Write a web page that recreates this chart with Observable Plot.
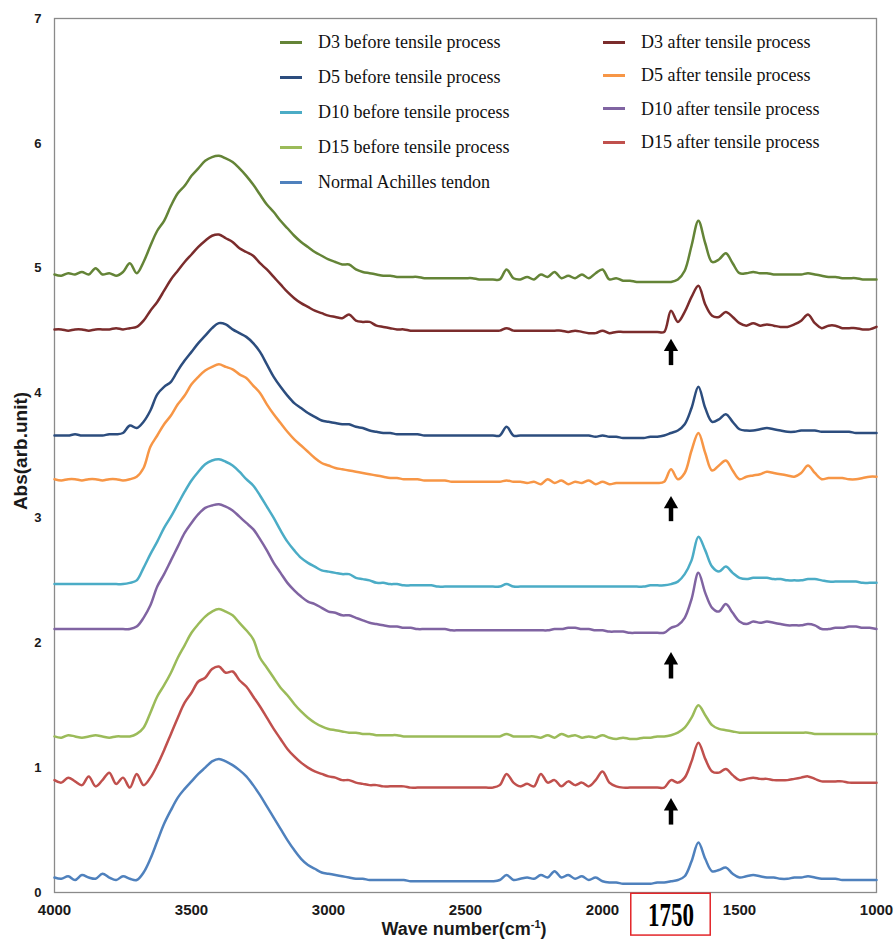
<!DOCTYPE html>
<html><head><meta charset="utf-8">
<script src="https://cdn.jsdelivr.net/npm/d3@7"></script>
<script src="https://cdn.jsdelivr.net/npm/@observablehq/plot@0.6"></script>
<style>
html,body{margin:0;padding:0;background:#fff;}
#chart{position:relative;width:894px;height:941px;overflow:hidden;}
.leg{position:absolute;font-family:"Liberation Serif","Times New Roman",serif;font-size:18px;color:#111;white-space:nowrap;line-height:1;}
.sw{position:absolute;width:22px;height:3px;}
</style></head><body><div id="chart"></div>
<script>
// wave numbers (cm-1), shared sampling grid
const wave = [
4000,3975,3950,3925,3900,3875,3850,3825,3800,3775,
3750,3725,3700,3675,3650,3625,3600,3575,3550,3525,
3500,3475,3450,3425,3400,3375,3350,3325,3300,3275,
3250,3225,3200,3175,3150,3125,3100,3075,3050,3025,
3000,2975,2950,2925,2900,2875,2850,2825,2800,2775,
2750,2725,2700,2675,2650,2625,2600,2575,2550,2525,
2500,2475,2450,2425,2400,2375,2350,2325,2300,2275,
2250,2225,2200,2175,2150,2125,2100,2075,2050,2025,
2000,1975,1950,1925,1900,1875,1850,1825,1800,1775,
1750,1725,1700,1675,1650,1625,1600,1575,1550,1525,
1500,1475,1450,1425,1400,1375,1350,1325,1300,1275,
1250,1225,1200,1175,1150,1125,1100,1075,1050,1025,
1000];

const d3Before = [
4.95,4.94,4.96,4.95,4.97,4.95,5.00,4.95,4.96,4.94,
4.97,5.04,4.96,5.05,5.18,5.30,5.38,5.50,5.60,5.66,
5.74,5.80,5.86,5.89,5.90,5.88,5.85,5.80,5.74,5.67,
5.59,5.51,5.45,5.38,5.32,5.26,5.21,5.17,5.13,5.10,
5.07,5.05,5.03,5.03,4.99,4.97,4.96,4.95,4.94,4.94,
4.93,4.93,4.93,4.93,4.92,4.92,4.92,4.92,4.92,4.92,
4.92,4.92,4.91,4.91,4.91,4.91,4.99,4.92,4.91,4.93,
4.91,4.95,4.93,4.97,4.92,4.94,4.92,4.95,4.92,4.96,
4.99,4.91,4.92,4.90,4.90,4.89,4.89,4.89,4.89,4.89,
4.89,4.91,4.98,5.18,5.38,5.20,5.05,5.07,5.12,5.04,
4.96,4.96,4.97,4.96,4.96,4.95,4.95,4.95,4.95,4.95,
4.96,4.95,4.94,4.93,4.93,4.92,4.92,4.92,4.91,4.91,
4.91];

const d3After = [
4.51,4.51,4.50,4.51,4.51,4.50,4.51,4.51,4.51,4.52,
4.51,4.52,4.53,4.58,4.66,4.73,4.82,4.91,4.98,5.05,
5.11,5.17,5.22,5.26,5.27,5.24,5.21,5.16,5.13,5.10,
5.04,4.99,4.93,4.87,4.81,4.76,4.72,4.69,4.66,4.64,
4.62,4.61,4.60,4.63,4.58,4.57,4.57,4.54,4.53,4.52,
4.51,4.51,4.50,4.50,4.50,4.50,4.50,4.50,4.50,4.50,
4.50,4.50,4.50,4.50,4.50,4.50,4.52,4.50,4.50,4.50,
4.50,4.50,4.50,4.50,4.50,4.49,4.50,4.49,4.48,4.48,
4.50,4.48,4.49,4.49,4.49,4.49,4.49,4.49,4.49,4.49,
4.66,4.57,4.65,4.77,4.86,4.71,4.62,4.61,4.65,4.61,
4.56,4.54,4.56,4.54,4.55,4.54,4.53,4.53,4.55,4.58,
4.63,4.56,4.52,4.54,4.54,4.52,4.52,4.52,4.51,4.51,
4.53];

const d5Before = [
3.66,3.66,3.66,3.67,3.66,3.66,3.66,3.66,3.67,3.67,
3.68,3.74,3.72,3.77,3.86,3.99,4.05,4.09,4.18,4.26,
4.33,4.40,4.46,4.52,4.56,4.55,4.51,4.48,4.45,4.40,
4.33,4.23,4.13,4.05,3.98,3.92,3.88,3.84,3.81,3.78,
3.77,3.76,3.75,3.75,3.73,3.72,3.70,3.69,3.68,3.68,
3.67,3.67,3.67,3.67,3.66,3.66,3.66,3.66,3.66,3.66,
3.66,3.66,3.66,3.66,3.66,3.66,3.73,3.66,3.66,3.66,
3.66,3.66,3.66,3.66,3.66,3.66,3.66,3.66,3.66,3.65,
3.66,3.65,3.65,3.64,3.64,3.64,3.64,3.65,3.65,3.66,
3.68,3.70,3.75,3.88,4.05,3.88,3.77,3.79,3.83,3.77,
3.71,3.70,3.70,3.71,3.72,3.71,3.70,3.69,3.69,3.70,
3.70,3.70,3.69,3.69,3.69,3.69,3.69,3.68,3.68,3.68,
3.68];

const d5After = [
3.31,3.30,3.31,3.31,3.30,3.31,3.31,3.30,3.31,3.31,
3.30,3.31,3.33,3.40,3.57,3.66,3.75,3.82,3.91,3.98,
4.07,4.13,4.18,4.21,4.23,4.21,4.19,4.15,4.12,4.06,
4.00,3.91,3.83,3.76,3.69,3.63,3.58,3.53,3.48,3.44,
3.42,3.40,3.39,3.38,3.37,3.36,3.35,3.34,3.33,3.32,
3.32,3.31,3.31,3.31,3.30,3.30,3.30,3.30,3.29,3.29,
3.29,3.29,3.29,3.29,3.29,3.29,3.30,3.29,3.29,3.28,
3.29,3.27,3.31,3.28,3.30,3.27,3.29,3.28,3.30,3.27,
3.29,3.27,3.28,3.28,3.28,3.28,3.28,3.28,3.28,3.29,
3.39,3.31,3.36,3.54,3.68,3.52,3.38,3.42,3.46,3.38,
3.31,3.33,3.34,3.35,3.37,3.36,3.35,3.34,3.33,3.36,
3.42,3.36,3.31,3.32,3.32,3.32,3.31,3.31,3.32,3.33,
3.33];

const d10Before = [
2.47,2.47,2.47,2.47,2.47,2.47,2.47,2.47,2.47,2.47,
2.47,2.48,2.50,2.60,2.71,2.81,2.92,3.01,3.11,3.21,
3.30,3.37,3.43,3.46,3.47,3.45,3.42,3.37,3.31,3.26,
3.18,3.09,3.00,2.90,2.81,2.74,2.68,2.64,2.61,2.58,
2.57,2.56,2.55,2.55,2.52,2.51,2.50,2.48,2.48,2.47,
2.47,2.46,2.46,2.46,2.46,2.46,2.45,2.45,2.45,2.45,
2.45,2.45,2.45,2.45,2.45,2.45,2.47,2.45,2.45,2.45,
2.45,2.45,2.45,2.45,2.45,2.45,2.45,2.45,2.45,2.45,
2.45,2.45,2.45,2.45,2.45,2.45,2.45,2.46,2.46,2.46,
2.47,2.49,2.55,2.66,2.85,2.74,2.61,2.57,2.61,2.56,
2.52,2.51,2.52,2.52,2.52,2.51,2.51,2.50,2.50,2.50,
2.51,2.51,2.50,2.49,2.49,2.49,2.49,2.49,2.48,2.48,
2.48];

const d10After = [
2.11,2.11,2.11,2.11,2.11,2.11,2.11,2.11,2.11,2.11,
2.11,2.11,2.13,2.20,2.30,2.45,2.55,2.66,2.77,2.88,
2.96,3.03,3.08,3.10,3.11,3.09,3.06,3.01,2.96,2.91,
2.83,2.74,2.64,2.56,2.48,2.42,2.37,2.33,2.31,2.28,
2.25,2.24,2.22,2.22,2.20,2.18,2.16,2.15,2.14,2.13,
2.13,2.12,2.12,2.11,2.11,2.11,2.11,2.11,2.10,2.10,
2.10,2.10,2.10,2.10,2.10,2.10,2.10,2.10,2.10,2.10,
2.10,2.10,2.10,2.11,2.11,2.12,2.12,2.11,2.11,2.10,
2.10,2.09,2.09,2.09,2.08,2.08,2.08,2.08,2.08,2.08,
2.12,2.14,2.20,2.35,2.56,2.40,2.28,2.25,2.31,2.24,
2.17,2.15,2.17,2.16,2.17,2.16,2.15,2.14,2.14,2.14,
2.15,2.14,2.11,2.11,2.12,2.12,2.13,2.13,2.12,2.12,
2.11];

const d15Before = [
1.25,1.24,1.26,1.25,1.24,1.25,1.26,1.25,1.24,1.25,
1.25,1.25,1.27,1.32,1.44,1.57,1.66,1.76,1.88,1.98,
2.08,2.15,2.21,2.25,2.27,2.25,2.22,2.16,2.10,2.03,
1.88,1.80,1.72,1.64,1.58,1.51,1.45,1.40,1.36,1.33,
1.31,1.30,1.29,1.28,1.28,1.27,1.27,1.26,1.26,1.26,
1.26,1.25,1.25,1.25,1.25,1.25,1.25,1.25,1.25,1.25,
1.25,1.25,1.25,1.25,1.25,1.25,1.27,1.25,1.25,1.25,
1.25,1.24,1.26,1.24,1.27,1.25,1.26,1.24,1.25,1.24,
1.26,1.24,1.23,1.24,1.23,1.23,1.24,1.24,1.25,1.25,
1.26,1.28,1.32,1.40,1.50,1.42,1.34,1.31,1.30,1.29,
1.28,1.28,1.28,1.28,1.28,1.28,1.28,1.28,1.28,1.28,
1.28,1.27,1.27,1.27,1.27,1.27,1.27,1.27,1.27,1.27,
1.27];

const d15After = [
0.90,0.88,0.92,0.89,0.86,0.93,0.85,0.90,0.96,0.87,
0.92,0.84,0.95,0.86,0.92,1.02,1.14,1.27,1.40,1.52,
1.60,1.69,1.72,1.79,1.81,1.76,1.77,1.70,1.65,1.57,
1.49,1.40,1.31,1.23,1.15,1.09,1.04,1.00,0.97,0.95,
0.93,0.92,0.90,0.90,0.88,0.87,0.86,0.86,0.85,0.85,
0.85,0.85,0.84,0.84,0.84,0.84,0.84,0.84,0.84,0.84,
0.84,0.84,0.84,0.84,0.84,0.86,0.95,0.88,0.85,0.87,
0.85,0.95,0.88,0.90,0.85,0.89,0.86,0.88,0.85,0.90,
0.97,0.88,0.85,0.84,0.84,0.84,0.84,0.84,0.84,0.84,
0.90,0.88,0.92,1.05,1.20,1.07,0.97,0.96,0.99,0.94,
0.90,0.91,0.92,0.91,0.91,0.90,0.90,0.90,0.91,0.92,
0.93,0.91,0.89,0.89,0.89,0.89,0.88,0.88,0.88,0.88,
0.88];

const normalTendon = [
0.12,0.11,0.13,0.10,0.14,0.12,0.11,0.15,0.12,0.10,
0.13,0.11,0.10,0.16,0.27,0.41,0.55,0.66,0.76,0.83,
0.89,0.95,1.00,1.05,1.07,1.05,1.02,0.98,0.93,0.86,
0.78,0.69,0.60,0.51,0.42,0.34,0.27,0.22,0.19,0.16,
0.15,0.14,0.13,0.12,0.11,0.11,0.10,0.10,0.10,0.10,
0.10,0.10,0.09,0.09,0.09,0.09,0.09,0.09,0.09,0.09,
0.09,0.09,0.09,0.09,0.09,0.10,0.14,0.10,0.11,0.12,
0.11,0.14,0.12,0.17,0.12,0.14,0.11,0.13,0.10,0.12,
0.09,0.08,0.08,0.07,0.07,0.07,0.07,0.07,0.08,0.08,
0.09,0.10,0.13,0.25,0.40,0.27,0.17,0.18,0.20,0.15,
0.12,0.13,0.14,0.13,0.12,0.12,0.11,0.11,0.12,0.12,
0.13,0.12,0.11,0.11,0.11,0.10,0.10,0.10,0.10,0.10,
0.10];

const seriesNames = [
  "D3 before tensile process","D5 before tensile process","D10 before tensile process",
  "D15 before tensile process","Normal Achilles tendon",
  "D3 after tensile process","D5 after tensile process","D10 after tensile process","D15 after tensile process"];
const seriesValues = [d3Before,d5Before,d10Before,d15Before,normalTendon,d3After,d5After,d10After,d15After];
const seriesColors = ["#648437","#2c4d7e","#4bacc6","#9bbb59","#4f81bd","#7b2c2c","#f79646","#8064a2","#c0504d"];

const xTicks = [4000,3500,3000,2500,2000,1500,1000];
const yTicks = [0,1,2,3,4,5,6,7];

// arrows pointing at the 1750 cm-1 band (data units)
const arrowWave = [1750,1750,1750,1750];
const arrowTail = [4.22,2.97,1.71,0.54];
const arrowHead = [4.37,3.11,1.86,0.69];

// boxed annotation below the axis
const boxLabel = ["1750"];
const boxWave = [1895,1605];
const boxValue = [-0.01,-0.345];

const rows = seriesNames.flatMap((name, s) =>
  wave.map((w, i) => ({series: name, wave: w, value: seriesValues[s][i]})));
const arrows = arrowWave.map((w, i) => ({wave: w, tail: arrowTail[i], head: arrowHead[i]}));
const box = [{x1: boxWave[0], x2: boxWave[1], y1: boxValue[0], y2: boxValue[1]}];
const boxText = [{wave: (boxWave[0] + boxWave[1]) / 2, value: (boxValue[0] + boxValue[1]) / 2, text: boxLabel[0]}];

const W = 894, H = 941;
const plot = Plot.plot({
  width: W, height: H,
  marginTop: 18, marginBottom: 49, marginLeft: 54, marginRight: 18,
  style: {fontFamily: "'Liberation Sans', Arial, sans-serif", background: "white", color: "#1a1a1a", overflow: "visible"},
  x: {domain: [4000, 1000]},
  y: {domain: [0, 7]},
  color: {domain: seriesNames, range: seriesColors},
  marks: [
    Plot.frame({stroke: "#8a8a8a", strokeWidth: 1.3}),
    Plot.axisX({ticks: xTicks, tickSize: 0, tickPadding: 12, fontSize: 15, fontWeight: "bold", tickFormat: d => String(d), label: null}),
    Plot.axisY({ticks: yTicks, tickSize: 0, tickPadding: 13, fontSize: 13, fontWeight: "bold", tickFormat: d => String(d), label: null}),
    Plot.line(rows, {x: "wave", y: "value", z: "series", stroke: "series", strokeWidth: 2.5, strokeLinejoin: "round", curve: "catmull-rom"}),
    Plot.ruleX(arrows, {x: "wave", y1: "tail", y2: "head", stroke: "black", strokeWidth: 4.5}),
    Plot.dot(arrows, {x: "wave", y: "head", symbol: "triangle", r: 5.3, fill: "black", stroke: "none"}),
    Plot.rect(box, {x1: "x1", x2: "x2", y1: "y1", y2: "y2", fill: "white", stroke: "#e3262a", strokeWidth: 1.5}),
    Plot.text(boxText, {x: "wave", y: "value", text: "text", fontFamily: "'Liberation Serif', 'Times New Roman', serif", fontWeight: "bold", fontSize: 23, fill: "#000"})
  ]
});

const svg = d3.select(plot);
// stretch the boxed label vertically as in the figure
svg.selectAll("text").filter(function() { return this.textContent === boxLabel[0]; })
  .each(function() { const t = this.getAttribute("transform") || ""; this.setAttribute("transform", t + " scale(1,1.5)"); });

// axis titles
const xt = svg.append("text").attr("x", 464).attr("y", 935).attr("text-anchor", "middle")
  .attr("font-size", 18).attr("font-weight", "bold").attr("fill", "#1a1a1a");
xt.append("tspan").text("Wave number(cm");
xt.append("tspan").text("-1").attr("font-size", 11).attr("dy", -7);
xt.append("tspan").text(")").attr("dy", 7);
svg.append("text").attr("transform", "translate(27,451) rotate(-90)").attr("text-anchor", "middle")
  .attr("font-size", 19).attr("font-weight", "bold").attr("fill", "#1a1a1a").text("Abs(arb.unit)");

const chart = document.getElementById("chart");
chart.appendChild(plot);

// legend (two columns)
const leftCol = [0, 1, 2, 3, 4], rightCol = [5, 6, 7, 8];
function addLegend(idx, swX, txX, y0, step) {
  idx.forEach((s, k) => {
    const y = y0 + k * step;
    const sw = document.createElement("div");
    sw.className = "sw"; sw.style.left = swX + "px"; sw.style.top = (y - 1.5) + "px"; sw.style.background = seriesColors[s];
    chart.appendChild(sw);
    const t = document.createElement("div");
    t.className = "leg"; t.style.left = txX + "px"; t.style.top = (y - 9) + "px"; t.textContent = seriesNames[s];
    chart.appendChild(t);
  });
}
addLegend(leftCol, 280, 318, 42, 35);
addLegend(rightCol, 603, 641, 42, 33.4);
</script>
</body></html>
